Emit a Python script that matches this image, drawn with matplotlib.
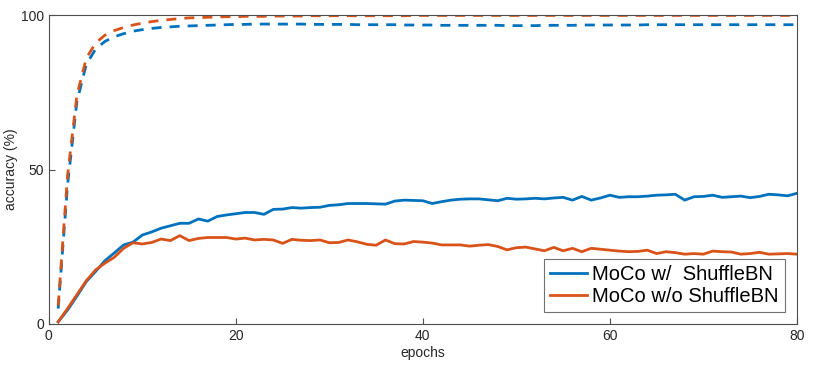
import matplotlib
matplotlib.use("Agg")
import matplotlib.pyplot as plt
import numpy as np

plt.rcParams['font.family'] = ['Liberation Sans', 'DejaVu Sans']

epochs = list(range(1, 81))

test_with_shuffle = [
    0.7, 4.5, 9.0, 13.7, 17.0, 20.5, 23.0, 25.6, 26.5, 28.8,
    29.8, 31.0, 31.8, 32.6, 32.6, 34.0, 33.3, 34.8, 35.3, 35.7,
    36.1, 36.1, 35.5, 37.1, 37.2, 37.7, 37.5, 37.7, 37.8, 38.4,
    38.6, 39.0, 39.0, 39.0, 38.9, 38.8, 39.8, 40.1, 40.0, 39.9,
    39.0, 39.6, 40.1, 40.4, 40.5, 40.5, 40.2, 39.9, 40.7, 40.4,
    40.5, 40.7, 40.5, 40.8, 41.0, 40.1, 41.3, 40.1, 40.8, 41.7,
    41.0, 41.2, 41.2, 41.4, 41.7, 41.8, 42.0, 40.1, 41.2, 41.3,
    41.7, 41.0, 41.2, 41.4, 40.9, 41.3, 42.0, 41.8, 41.5, 42.3,
]

test_without_shuffle = [
    0.7, 5.0, 9.5, 14.0, 17.5, 19.7, 21.6, 24.5, 26.3, 25.9,
    26.4, 27.5, 27.0, 28.6, 27.0, 27.7, 28.0, 28.0, 28.0, 27.5,
    27.8, 27.2, 27.4, 27.2, 26.1, 27.4, 27.1, 27.0, 27.2, 26.3,
    26.4, 27.2, 26.6, 25.8, 25.5, 27.2, 26.0, 25.9, 26.7, 26.5,
    26.2, 25.6, 25.6, 25.6, 25.2, 25.5, 25.7, 25.1, 24.0, 24.7,
    24.9, 24.3, 23.7, 24.8, 23.7, 24.5, 23.4, 24.5, 24.2, 23.9,
    23.6, 23.4, 23.5, 23.9, 22.8, 23.4, 23.1, 22.6, 22.8, 22.6,
    23.6, 23.4, 23.3, 22.6, 22.8, 23.2, 22.6, 22.7, 22.8, 22.6,
]

train_with_shuffle = [
    5.0, 45.0, 72.0, 84.0, 89.0, 91.5, 93.0, 94.0, 94.8, 95.3,
    95.7, 96.0, 96.2, 96.4, 96.5, 96.6, 96.7, 96.8, 96.9, 97.0,
    97.0, 97.1, 97.1, 97.1, 97.1, 97.1, 97.1, 97.0, 97.0, 97.0,
    97.0, 97.0, 96.9, 96.9, 96.9, 96.9, 96.9, 96.8, 96.8, 96.8,
    96.8, 96.7, 96.7, 96.7, 96.7, 96.7, 96.7, 96.7, 96.6, 96.6,
    96.6, 96.6, 96.7, 96.7, 96.7, 96.7, 96.8, 96.8, 96.8, 96.8,
    96.8, 96.8, 96.8, 96.9, 96.9, 96.9, 96.9, 96.9, 96.9, 96.9,
    96.9, 96.9, 96.9, 96.9, 96.9, 96.9, 96.9, 96.9, 96.9, 96.9,
]

train_without_shuffle = [
    6.0, 48.0, 74.0, 86.0, 91.0, 93.5, 95.0, 96.0, 96.8, 97.4,
    97.9, 98.3, 98.6, 98.9, 99.1, 99.2, 99.3, 99.4, 99.5, 99.5,
    99.6, 99.6, 99.6, 99.7, 99.7, 99.7, 99.7, 99.8, 99.8, 99.8,
    99.8, 99.8, 99.8, 99.8, 99.8, 99.8, 99.8, 99.8, 99.9, 99.9,
    99.9, 99.9, 99.9, 99.9, 99.9, 99.9, 99.9, 99.9, 99.9, 99.9,
    99.9, 99.9, 99.9, 99.9, 99.9, 99.9, 99.9, 99.9, 99.9, 99.9,
    99.9, 99.9, 99.9, 99.9, 99.9, 99.9, 99.9, 99.9, 99.9, 99.9,
    99.9, 99.9, 99.9, 99.9, 99.9, 99.9, 99.9, 99.9, 99.9, 99.9,
]

labels = ['MoCo w/  ShuffleBN', 'MoCo w/o ShuffleBN']
x_ticks = [0, 20, 40, 60, 80]
y_ticks = [0, 50, 100]

blue = '#0072BD'
orange = '#D95319'
axis_col = '#4d4d4d'

fig = plt.figure(figsize=(8.14, 3.69), dpi=100)
ax = fig.add_axes([0.060, 0.122, 0.919, 0.837])

lw = 2.0
ax.plot(epochs, test_with_shuffle, color=blue, lw=lw, label=labels[0])
ax.plot(epochs, test_without_shuffle, color=orange, lw=lw, label=labels[1])
ax.plot(epochs, train_with_shuffle, color=blue, lw=lw, ls=(0, (3.6, 2.9)))
ax.plot(epochs, train_without_shuffle, color=orange, lw=lw, ls=(0, (3.6, 2.9)))

ax.set_xlim(0, 80)
ax.set_ylim(0, 100)
ax.set_xticks(x_ticks)
ax.set_yticks(y_ticks)
ax.tick_params(direction='in', length=4, width=0.8, colors=axis_col,
               labelcolor='#262626', labelsize=10, top=False, right=False)
for s in ax.spines.values():
    s.set_color(axis_col)
    s.set_linewidth(0.8)

ax.set_xlabel('epochs', fontsize=10, color='#262626', labelpad=2)
ax.set_ylabel('accuracy (%)', fontsize=10, color='#262626', labelpad=2)

leg = ax.legend(loc='lower right', fontsize=14.5, frameon=True, fancybox=False,
                edgecolor=axis_col, handlelength=1.85, borderpad=0.3,
                labelspacing=0.15, handletextpad=0.25, borderaxespad=0.6)
leg.get_frame().set_linewidth(0.8)

fig.savefig('out.png', dpi=100)
